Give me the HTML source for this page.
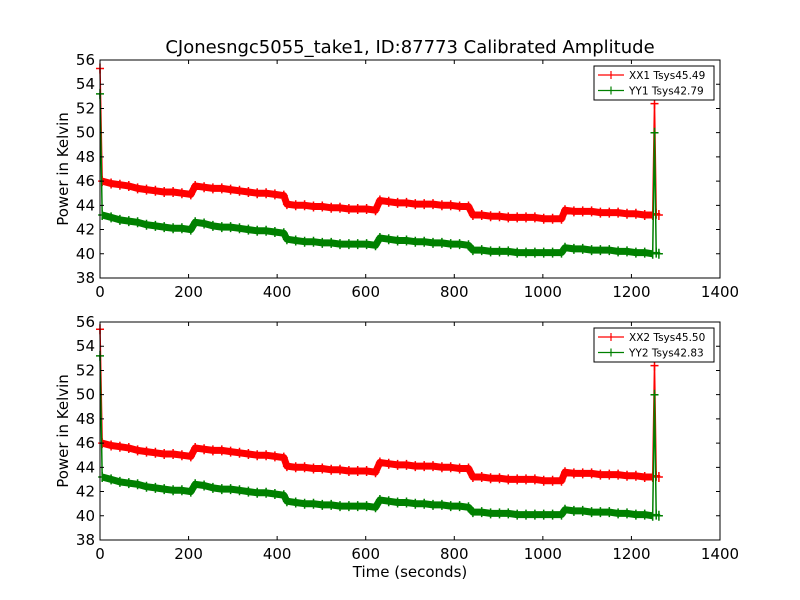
<!DOCTYPE html>
<html><head><meta charset="utf-8"><style>
body{margin:0;background:#fff;}
svg{display:block;font-family:"DejaVu Sans","Liberation Sans",sans-serif;}
</style></head><body>
<svg id="c" width="800" height="600"></svg>
<script>
const times=[0,5,25,45,65,85,105,125,145,165,185,205,215,235,255,275,295,315,335,355,375,395,415,422,442,462,482,502,522,542,562,582,602,622,632,652,672,692,712,732,752,772,792,812,832,842,862,882,902,922,942,962,982,1002,1022,1042,1050,1070,1090,1110,1130,1150,1170,1190,1210,1230,1248,1252,1256,1262];
const xx1=[55.3,46.0,45.8,45.7,45.6,45.4,45.3,45.2,45.1,45.1,45.0,44.9,45.6,45.5,45.4,45.4,45.3,45.2,45.1,45.0,45.0,44.9,44.8,44.1,44.0,44.0,43.9,43.9,43.8,43.8,43.7,43.7,43.7,43.6,44.4,44.3,44.2,44.2,44.1,44.1,44.1,44.0,44.0,43.9,43.9,43.2,43.2,43.1,43.1,43.0,43.0,43.0,43.0,42.9,42.9,42.9,43.6,43.5,43.5,43.5,43.4,43.4,43.4,43.3,43.3,43.2,43.2,52.4,43.3,43.2];
const yy1=[53.2,43.2,43.0,42.8,42.7,42.6,42.4,42.3,42.2,42.1,42.1,42.0,42.6,42.5,42.3,42.2,42.2,42.1,42.0,41.9,41.9,41.8,41.7,41.2,41.1,41.0,41.0,40.9,40.9,40.8,40.8,40.8,40.8,40.7,41.3,41.2,41.1,41.1,41.0,41.0,40.9,40.9,40.8,40.8,40.7,40.3,40.3,40.2,40.2,40.2,40.1,40.1,40.1,40.1,40.1,40.1,40.5,40.4,40.4,40.3,40.3,40.3,40.2,40.2,40.1,40.1,40.0,50.0,40.1,40.0];
const xx2=xx1.slice(); xx2[0]=55.4;
const yy2=yy1.slice();
const xTicks=[0,200,400,600,800,1000,1200,1400];
const yTicks=[38,40,42,44,46,48,50,52,54,56];
const panels=[
 {top:60,series:[{v:xx1,c:"#ff0000",n:"XX1 Tsys45.49",id:"xx1"},{v:yy1,c:"#008000",n:"YY1 Tsys42.79",id:"yy1"}],title:"CJonesngc5055_take1, ID:87773 Calibrated Amplitude"},
 {top:322,series:[{v:xx2,c:"#ff0000",n:"XX2 Tsys45.50",id:"xx2"},{v:yy2,c:"#008000",n:"YY2 Tsys42.83",id:"yy2"}],xlabel:"Time (seconds)"}
];
const svg=document.getElementById('c');const NS="http://www.w3.org/2000/svg";
function mk(t,a,p){const e=document.createElementNS(NS,t);for(const k in a)e.setAttribute(k,a[k]);(p||svg).appendChild(e);return e;}
const L=100,R=720,H=218;
panels.forEach((P,pi)=>{
 const g=mk('g',{});
 
 
 const sx=t=>L+(t-0)/1400*(R-L);
 const sy=v=>P.top+H-(v-38)/18*H;
 P.series.forEach(s=>{
  const sg=mk('g',{},g);
  
  
  let d='';times.forEach((t,i)=>{d+=(i?'L':'M')+sx(t).toFixed(1)+' '+sy(s.v[i]).toFixed(1);});
  mk('path',{d:d,fill:'none',stroke:s.c,'stroke-width':1.5},sg);
  let band='';
  times.forEach((t,i)=>{if(i<1||i>times.length-4)return;band+=(band?'L':'M')+sx(t).toFixed(1)+' '+sy(s.v[i]).toFixed(1);});
  mk('path',{d:band,fill:'none',stroke:s.c,'stroke-width':7,'stroke-linejoin':'round'},sg);
  let m='';times.forEach((t,i)=>{const x=sx(t),y=sy(s.v[i]);m+=`M${(x-4).toFixed(1)} ${y.toFixed(1)}h8M${x.toFixed(1)} ${(y-5).toFixed(1)}v10`;});
  mk('path',{d:m,fill:'none',stroke:s.c,'stroke-width':1.5},sg);
 });
 const ax=mk('rect',{x:L,y:P.top,width:R-L,height:H,fill:'none',stroke:'#000','stroke-width':1},g);
 
 
 xTicks.forEach(t=>{const x=sx(t);
  mk('path',{d:`M${x} ${P.top+H}v-4M${x} ${P.top}v4`,stroke:'#000'},g);
  const tx=mk('text',{x:x,y:P.top+H+19,'font-size':15,'text-anchor':'middle'},g);tx.textContent=t;
  
  
 });
 yTicks.forEach(v=>{const y=sy(v);
  mk('path',{d:`M${L} ${y}h4M${R} ${y}h-4`,stroke:'#000'},g);
  const tx=mk('text',{x:L-5,y:y+5,'font-size':15,'text-anchor':'end'},g);tx.textContent=v;
  
  
 });
 const yl=mk('text',{x:0,y:0,'font-size':15,'text-anchor':'middle',transform:`translate(68 ${P.top+H/2}) rotate(-90)`},g);yl.textContent='Power in Kelvin';
 
 
 if(P.title){const tt=mk('text',{x:410,y:P.top-7,'font-size':18,'text-anchor':'middle'},g);tt.textContent=P.title;
  
  }
 if(P.xlabel){const xl=mk('text',{x:410,y:P.top+H+37,'font-size':15,'text-anchor':'middle'},g);xl.textContent=P.xlabel;
  
  }
 const lg=mk('g',{},g);
 
 
 mk('rect',{x:594,y:P.top+6,width:120,height:34,fill:'#fff',stroke:'#000'},lg);
 P.series.forEach((s,i)=>{const y=P.top+15+i*15.5;
  const e=mk('g',{},lg);
  
  
  mk('path',{d:`M598 ${y}h26M611 ${y-4}v8`,stroke:s.c,'stroke-width':1.2},e);
  const t=mk('text',{x:629,y:y+4,'font-size':10.5},e);t.textContent=s.n;
 });
});
</script>
</body></html>
